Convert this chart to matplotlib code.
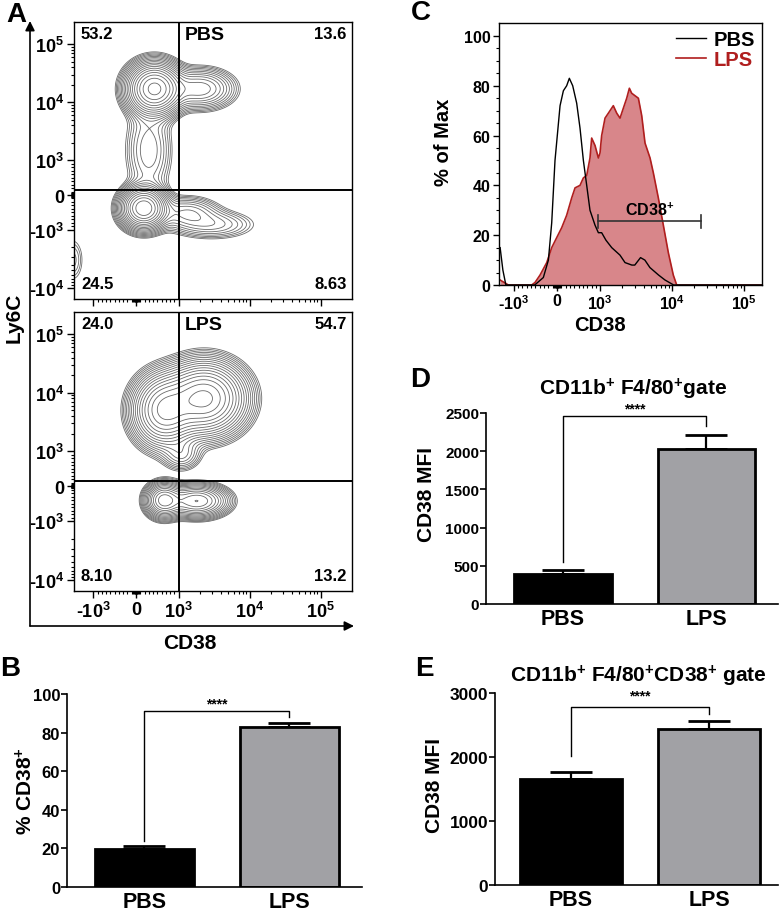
import matplotlib
matplotlib.use('Agg')
import matplotlib.pyplot as plt
import numpy as np
from matplotlib.ticker import FixedLocator

plt.rcParams['font.family'] = ['Liberation Sans', 'DejaVu Sans']
plt.rcParams['font.weight'] = 'bold'
plt.rcParams['axes.labelweight'] = 'bold'
plt.rcParams['mathtext.fontset'] = 'custom'
plt.rcParams['mathtext.rm'] = 'Liberation Sans:bold'
plt.rcParams['mathtext.bf'] = 'Liberation Sans:bold'
plt.rcParams['mathtext.default'] = 'bf'
plt.rcParams['axes.linewidth'] = 1.0

# ---------------- data ----------------
groups = ['PBS', 'LPS']

# A: quadrant percentages (UL, UR, LL, LR)
quad_pbs = ['53.2', '13.6', '24.5', '8.63']
quad_lps = ['24.0', '54.7', '8.10', '13.2']
gate_cd38 = 1000
gate_ly6c = 150

# A: populations used for the contour maps (centre CD38, centre Ly6C, spread in decades, weight)
pbs_cd38 = [430, 2000, 300, 180, 1300, 3000, -1950]
pbs_ly6c = [17000, 17000, 1500, -380, -500, -850, -3300]
pbs_sx = [0.19, 0.25, 0.18, 0.16, 0.25, 0.33, 0.10]
pbs_sy = [0.22, 0.18, 0.45, 0.18, 0.15, 0.14, 0.25]
pbs_w = [1.0, 0.2, 0.08, 0.9, 0.1, 0.07, 0.035]

lps_cd38 = [667, 2300, 1100, 650, 1800]
lps_ly6c = [5000, 8000, 900, -400, -420]
lps_sx = [0.22, 0.28, 0.15, 0.13, 0.22]
lps_sy = [0.30, 0.30, 0.15, 0.15, 0.14]
lps_w = [0.75, 1.0, 0.08, 0.5, 0.45]

# C: histograms (% of max)
pbs_hist_x = [-1550, -1420, -1290, -517, -317, -200, -123, -47, 70, 147, 223, 285, 363,
              455, 532, 610, 687, 763, 880, 957, 1047, 1200, 1445, 1880, 2210, 2750,
              3020, 3630, 4170, 4900, 6460, 7940, 10470, 200000]
pbs_hist_y = [15, 6, 0, 0, 3, 10, 25, 50, 72, 78, 80, 83, 80,
              73, 63, 50, 40, 30, 24, 21, 21, 18, 15, 12, 9, 8,
              8, 11, 10, 7, 4, 2, 0, 0]
lps_hist_x = [-1550, -1190, -587, -510, -393, -238, -123, -8, 108, 223, 340, 417, 532,
              610, 687, 763, 802, 880, 957, 995, 1047, 1166, 1298, 1520, 1695, 1884,
              2095, 2333, 2540, 2735, 3043, 3388, 3770, 4190, 4920, 5470, 6410, 7530,
              8830, 10350, 11540, 200000]
lps_hist_y = [2, 0, 0, 1, 4, 9, 15, 19, 23, 28, 35, 39, 40,
              43, 44, 51, 59, 56, 51, 53, 60, 67, 69, 72, 69, 67,
              71, 75, 79, 77, 76, 75, 68, 57, 51, 45, 35, 24,
              13, 4, 0, 0]
cd38_gate = [942, 25100]
cd38_gate_y = 25.5

# B, D, E: bar values and SEM
b_vals = [19.8, 82.8]
b_err = [1.7, 2.2]
d_vals = [393, 2024]
d_err = [53, 183]
e_vals = [1664, 2437]
e_err = [94, 130]

# ---------------- helpers ----------------
LT = 1000.0
LS = 0.6


def fwd(v):
    v = np.asarray(v, dtype=float)
    a = np.abs(v)
    return np.where(a <= LT, v / LT * LS, np.sign(v) * (LS + np.log10(np.maximum(a, LT) / LT)))


def inv(u):
    u = np.asarray(u, dtype=float)
    a = np.abs(u)
    return np.where(a <= LS, u / LS * LT, np.sign(u) * LT * 10 ** (np.maximum(a, LS) - LS))


def flow_axis(axis, ticks, labels, fs):
    axis.set_ticks(ticks)
    axis.set_ticklabels(labels, fontsize=fs)
    minor = [m * 10 ** e for e in (3, 4) for m in range(2, 10)]
    minor += [-m * 1000 for m in range(2, 10)]
    minor += [s * m * 100 for s in (-1, 1) for m in range(1, 10)]
    minor += [s * m for s in (-1, 1) for m in (10, 20, 30, 45, 60)]
    axis.set_minor_locator(FixedLocator(minor))


fig = plt.figure(figsize=(7.81, 9.12), dpi=100)
W, H = 781.0, 912.0


def px_axes(left, top, right, bottom):
    return fig.add_axes([left / W, 1 - bottom / H, (right - left) / W, (bottom - top) / H])


# ---------------- panel A ----------------
ux = np.linspace(-0.95, 3.1, 340)
uy = np.linspace(-1.85, 3.0, 340)
UX, UY = np.meshgrid(ux, uy)
GX, GY = inv(UX), inv(UY)

xt = [-1000, 0, 1000, 10000, 100000]
xl = ['-$10^{3}$', '0', '$10^{3}$', '$10^{4}$', '$10^{5}$']
yt = [-10000, -1000, 0, 1000, 10000, 100000]
yl = ['-$10^{4}$', '-$10^{3}$', '0', '$10^{3}$', '$10^{4}$', '$10^{5}$']

panels = [(23, 300, pbs_cd38, pbs_ly6c, pbs_sx, pbs_sy, pbs_w, quad_pbs, 'PBS', False),
          (313, 592, lps_cd38, lps_ly6c, lps_sx, lps_sy, lps_w, quad_lps, 'LPS', True)]
for top, bot, cx, cy, sx, sy, w, quad, name, showx in panels:
    ax = px_axes(74, top, 352, bot)
    ax.set_xscale('symlog', linthresh=LT, linscale=LS * 0.9)
    ax.set_yscale('symlog', linthresh=LT, linscale=LS * 0.9)
    dens = np.zeros_like(UX)
    for i in range(len(cx)):
        dens += w[i] * np.exp(-((UX - fwd(cx[i])) ** 2 / (2 * sx[i] ** 2)
                                + (UY - fwd(cy[i])) ** 2 / (2 * sy[i] ** 2)))
    levels = dens.max() * np.geomspace(0.015, 0.9, 18)
    ax.contour(GX, GY, dens, levels=levels, colors='#6a6a6a', linewidths=0.6)
    ax.axvline(gate_cd38, color='black', lw=1.4)
    ax.axhline(gate_ly6c, color='black', lw=1.4)
    ax.set_xlim(-1875, 276700)
    ax.set_ylim(-15600, 241500)
    flow_axis(ax.xaxis, xt, xl, 13)
    flow_axis(ax.yaxis, yt, yl, 13)
    ax.tick_params(which='major', length=5, width=1, pad=2)
    ax.tick_params(which='minor', length=2.5, width=0.8)
    if not showx:
        ax.tick_params(labelbottom=False)
    ax.text(0.025, 0.985, quad[0], transform=ax.transAxes, ha='left', va='top', fontsize=12)
    ax.text(0.98, 0.985, quad[1], transform=ax.transAxes, ha='right', va='top', fontsize=12)
    ax.text(0.025, 0.03, quad[2], transform=ax.transAxes, ha='left', va='bottom', fontsize=12)
    ax.text(0.98, 0.03, quad[3], transform=ax.transAxes, ha='right', va='bottom', fontsize=12)
    ax.text(0.4, 0.985, name, transform=ax.transAxes, ha='left', va='top', fontsize=14)

# outer arrows of A
arr = dict(arrowstyle='-|>', color='black', lw=1.2, mutation_scale=14, shrinkA=0, shrinkB=0)
fig.add_artist(matplotlib.patches.FancyArrowPatch((30 / W, 1 - 627 / H), (30 / W, 1 - 22 / H),
                                                  transform=fig.transFigure, **arr))
fig.add_artist(matplotlib.patches.FancyArrowPatch((30 / W, 1 - 627 / H), (354 / W, 1 - 627 / H),
                                                  transform=fig.transFigure, **arr))
fig.text(14 / W, 1 - 318 / H, 'Ly6C', rotation=90, ha='center', va='center', fontsize=15)
fig.text(190 / W, 1 - 644 / H, 'CD38', ha='center', va='center', fontsize=15)

# ---------------- panel C ----------------
axc = px_axes(499, 24, 762, 286)
axc.set_xscale('symlog', linthresh=LT, linscale=LS * 0.9)
axc.fill_between(lps_hist_x, lps_hist_y, 0, color='#d8868a', lw=0)
axc.plot(lps_hist_x, lps_hist_y, color='#b01e1e', lw=1.2, label='LPS')
axc.plot(pbs_hist_x, pbs_hist_y, color='black', lw=1.0, label='PBS')
axc.plot(cd38_gate, [cd38_gate_y, cd38_gate_y], color='#333333', lw=1.2)
for gx in cd38_gate:
    axc.plot([gx, gx], [cd38_gate_y - 2.8, cd38_gate_y + 2.8], color='#333333', lw=1.2)
axc.text(4900, cd38_gate_y + 1.5, 'CD38$^{+}$', ha='center', va='bottom', fontsize=11.5)
axc.set_xlim(-1607, 176600)
axc.set_ylim(0, 105.2)
flow_axis(axc.xaxis, xt, xl, 11.5)
axc.set_yticks(np.arange(0, 101, 20))
axc.yaxis.set_minor_locator(FixedLocator(np.arange(0, 101, 5)))
axc.tick_params(which='major', length=4, width=1, pad=2)
axc.tick_params(axis='y', labelsize=11.5)
axc.tick_params(which='minor', length=2.5, width=0.8)
axc.set_ylabel('% of Max', fontsize=14.5)
axc.yaxis.set_label_coords(-0.175, 0.55)
axc.set_xlabel('CD38', fontsize=14.5)
axc.xaxis.set_label_coords(0.385, -0.115)
h, l = axc.get_legend_handles_labels()
leg = axc.legend(h[::-1], l[::-1], loc='upper right', bbox_to_anchor=(0.975, 0.975), frameon=False,
                 fontsize=14.5, borderaxespad=0, borderpad=0, handlelength=1.5, handletextpad=0.4,
                 labelspacing=0.05)
for txt, ln in zip(leg.get_texts(), leg.get_lines()):
    txt.set_color(ln.get_color())


# ---------------- bar panels ----------------
def bar_panel(ax, vals, errs, width, xlim, ylim, yticks, yfs, star_y, br, ylabel, ylab_xy):
    ax.bar([0, 1], vals, width=width, color=['black', '#a1a1a5'], edgecolor='black', linewidth=2,
           zorder=2)
    ax.errorbar([0, 1], vals, yerr=[[0, 0], errs], fmt='none', ecolor='black', elinewidth=1.6,
                capsize=15, capthick=2, zorder=1)
    ax.plot([0, 0, 1, 1], br, color='black', lw=1, clip_on=False)
    ax.text(0.5, star_y, '****', ha='center', va='center', fontsize=10)
    ax.set_xlim(*xlim)
    ax.set_ylim(*ylim)
    ax.set_yticks(yticks)
    ax.set_xticks([0, 1])
    ax.set_xticklabels(groups, fontsize=15.5)
    ax.tick_params(axis='x', length=0, pad=3)
    ax.tick_params(axis='y', length=4, width=1.2, labelsize=yfs, pad=1)
    ax.spines['top'].set_visible(False)
    ax.spines['right'].set_visible(False)
    ax.spines['left'].set_linewidth(1.2)
    ax.spines['bottom'].set_linewidth(1.2)
    ax.set_ylabel(ylabel, fontsize=15)
    ax.yaxis.set_label_coords(*ylab_xy)


axb = px_axes(67, 695, 362, 888)
bar_panel(axb, b_vals, b_err, 0.68, (-0.534, 1.5), (0, 100), np.arange(0, 101, 20), 12, 95,
          [24, 91.4, 91.4, 88], '% CD38$^{+}$', (-0.105, 0.5))

axd = px_axes(486, 414, 778, 605)
bar_panel(axd, d_vals, d_err, 0.68, (-0.537, 1.5), (0, 2500), np.arange(0, 2501, 500), 11, 2560,
          [546, 2456, 2456, 2325], 'CD38 MFI', (-0.17, 0.58))
axd.text(0.503, 1.13, 'CD11b$^{+}$ F4/80$^{+}$gate', transform=axd.transAxes, ha='center',
         va='center', fontsize=15)

axe = px_axes(495, 694, 778, 886)
bar_panel(axe, e_vals, e_err, 0.74, (-0.55, 1.5), (0, 3000), np.arange(0, 3001, 1000), 12.5, 2965,
          [2019, 2776, 2776, 2671], 'CD38 MFI', (-0.18, 0.525))
axe.text(0.505, 1.09, 'CD11b$^{+}$ F4/80$^{+}$CD38$^{+}$ gate', transform=axe.transAxes,
         ha='center', va='center', fontsize=15)

for a in fig.axes:
    for lab in a.get_xticklabels() + a.get_yticklabels():
        lab.set_fontweight('bold')

# panel letters
for x, y, s in [(6, 2, 'A'), (0, 656, 'B'), (411, 0, 'C'), (410, 367, 'D'), (415, 656, 'E')]:
    fig.text(x / W, 1 - y / H, s, ha='left', va='top', fontsize=20)

fig.savefig('out.png', dpi=100)
